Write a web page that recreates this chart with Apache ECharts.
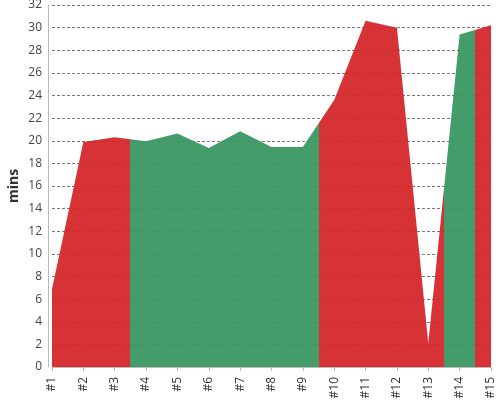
<!DOCTYPE html>
<html>
<head>
<meta charset="utf-8">
<script src="https://cdn.jsdelivr.net/npm/echarts@6/dist/echarts.min.js"></script>
<style>
  html, body { margin: 0; padding: 0; background: #fff; }
  #chart { width: 500px; height: 400px; }
</style>
</head>
<body>
<div id="chart"></div>
<script>
// categories and values
const categories = ['#1', '#2', '#3', '#4', '#5', '#6', '#7', '#8', '#9', '#10', '#11', '#12', '#13', '#14', '#15'];
const minutes = [6.9, 19.9, 20.3, 19.95, 20.65, 19.35, 20.85, 19.45, 19.45, 23.6, 30.6, 30.0, 2.1, 29.4, 30.2];
// colour bands along the x axis (category index ranges)
const bandEdges = [0, 2.5, 8.5, 12.5, 13.5, 14];
const bandColors = ['#d4262a', '#389661', '#d4262a', '#389661', '#d4262a'];

// hard-edged horizontal gradient, the area spans index 0 .. last
const span = categories.length - 1;
const stops = [];
bandColors.forEach((c, i) => {
  stops.push({ offset: bandEdges[i] / span, color: c });
  stops.push({ offset: bandEdges[i + 1] / span, color: c });
});

const chart = echarts.init(document.getElementById('chart'));
const font = 'Open Sans';
chart.setOption({
  animation: false,
  textStyle: { fontFamily: font },
  grid: { left: 52, right: 9, top: 5, bottom: 33, containLabel: false, outerBoundsMode: 'none' },
  xAxis: {
    type: 'category',
    data: categories,
    boundaryGap: false,
    offset: 4,
    axisLine: { lineStyle: { color: '#bbb' } },
    axisTick: { alignWithLabel: true, length: 4, lineStyle: { color: '#bbb' } },
    axisLabel: { rotate: 90, color: '#333', fontSize: 12, margin: 6, interval: 0, fontFamily: font },
    splitLine: { show: false }
  },
  yAxis: {
    type: 'value',
    min: 0,
    max: 32,
    interval: 2,
    offset: 4,
    name: 'mins',
    nameLocation: 'middle',
    nameGap: 27,
    nameMoveOverlap: false,
    nameTextStyle: { fontSize: 14, fontWeight: 'bold', color: '#333', fontFamily: font },
    axisLine: { show: true, lineStyle: { color: '#bbb' } },
    axisTick: { show: false },
    axisLabel: { color: '#444', fontSize: 12, margin: 6, fontFamily: font },
    splitLine: { lineStyle: { color: '#777', type: [3, 2], width: 1 } }
  },
  series: [{
    type: 'line',
    data: minutes,
    showSymbol: false,
    lineStyle: { width: 0 },
    areaStyle: {
      opacity: 0.94,
      color: new echarts.graphic.LinearGradient(0, 0, 1, 0, stops)
    }
  }]
});
</script>
</body>
</html>
